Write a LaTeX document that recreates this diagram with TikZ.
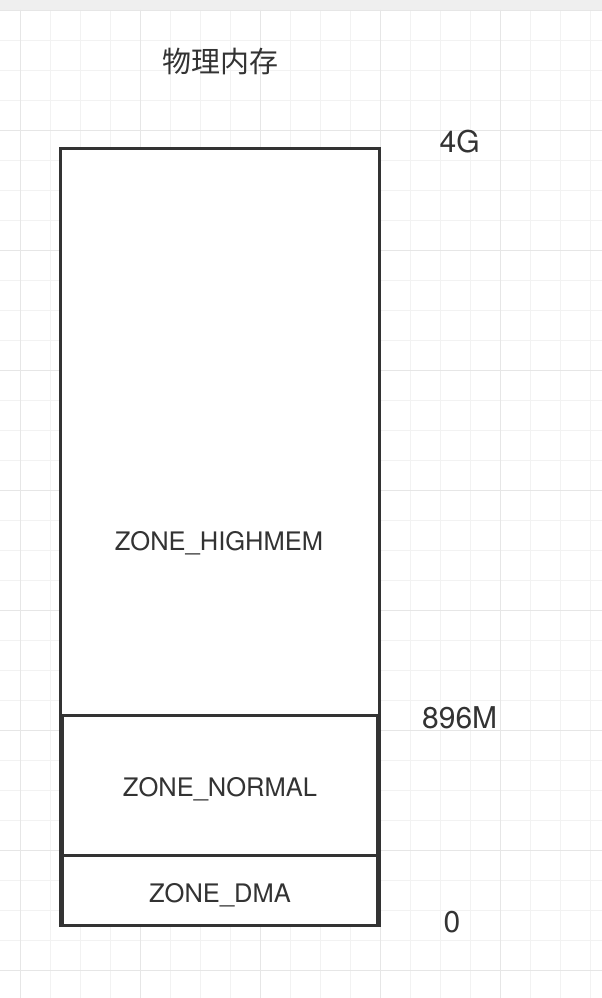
\documentclass[tikz,border=0pt]{standalone}
\usepackage{fontspec}
\setmainfont{TeX Gyre Heros}
\newfontfamily\cjkfont{Noto Sans CJK SC}
\definecolor{ink}{HTML}{333333}
\definecolor{gridminor}{HTML}{F2F2F2}
\definecolor{gridmajor}{HTML}{E6E6E6}
\definecolor{band}{HTML}{EFEFEF}
\begin{document}
\begin{tikzpicture}[x=1pt,y=-1pt,
  zonebox/.style={draw=ink, line width=3.5pt, fill=white, inner sep=0pt, outer sep=0pt, anchor=north west},
  zonelabel/.style={text=ink, font=\fontsize{25.5}{30}\selectfont, inner sep=0pt, anchor=base},
  addrlabel/.style={text=ink, font=\fontsize{30}{36}\selectfont, inner sep=0pt, anchor=base},
  minorline/.style={gridminor, line width=1.3pt},
  majorline/.style={gridmajor, line width=1.3pt}]
\useasboundingbox (0,0) rectangle (602,998);
\fill[white] (0,0) rectangle (602,998);
\fill[band] (0,0) rectangle (602,10);
% grid
\foreach \i in {0,...,19} {\draw[minorline] (20.7+30*\i,10) -- (20.7+30*\i,998);}
\foreach \i in {0,...,32} {\draw[minorline] (0,10.7+30*\i) -- (602,10.7+30*\i);}
\foreach \i in {0,...,4} {\draw[majorline] (20.7+120*\i,10) -- (20.7+120*\i,998);}
\foreach \i in {0,...,8} {\draw[majorline] (0,10.7+120*\i) -- (602,10.7+120*\i);}
% boxes
\node[zonebox, minimum width=319pt, minimum height=776.8pt] (highmem) at (60.7,148.7) {};
\node[zonebox, minimum width=315pt, minimum height=140pt] (normal) at (62.5,715.5) {};
\node[zonebox, minimum width=315pt, minimum height=70pt] (dma) at (62.5,855.5) {};
\draw[ink, line width=3.5pt] (highmem.north west) rectangle (highmem.south east);
% labels
\node[zonelabel] (lhigh) at (219,550) {ZONE\_HIGHMEM};
\node[zonelabel] (lnormal) at (220,796.7) {ZONE\_NORMAL};
\node[zonelabel] (ldma) at (220,902.3) {ZONE\_DMA};
\node[text=ink, font=\cjkfont\fontsize{29}{34}\selectfont, inner sep=0pt, anchor=base] (title) at (220,73) {物理内存};
\node[addrlabel] (l4g) at (459.7,152.3) {4G};
\node[addrlabel] (l896) at (459.7,728.3) {896M};
\node[addrlabel] (l0) at (452,932.7) {0};
\end{tikzpicture}
\end{document}
